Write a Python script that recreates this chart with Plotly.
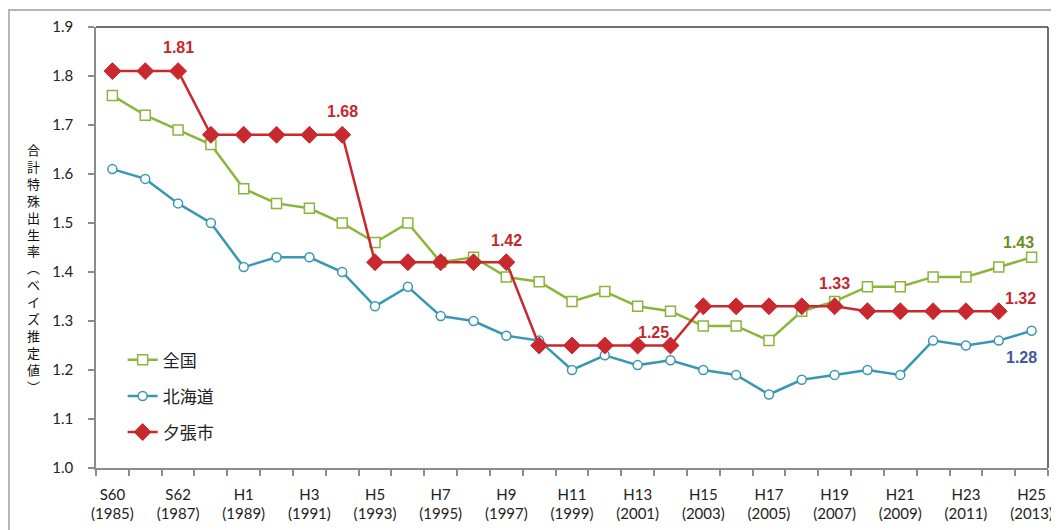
import plotly.graph_objects as go

years = list(range(1985, 2014))
zenkoku = [1.76, 1.72, 1.69, 1.66, 1.57, 1.54, 1.53, 1.50, 1.46, 1.50,
           1.42, 1.43, 1.39, 1.38, 1.34, 1.36, 1.33, 1.32, 1.29, 1.29,
           1.26, 1.32, 1.34, 1.37, 1.37, 1.39, 1.39, 1.41, 1.43]
hokkaido = [1.61, 1.59, 1.54, 1.50, 1.41, 1.43, 1.43, 1.40, 1.33, 1.37,
            1.31, 1.30, 1.27, 1.26, 1.20, 1.23, 1.21, 1.22, 1.20, 1.19,
            1.15, 1.18, 1.19, 1.20, 1.19, 1.26, 1.25, 1.26, 1.28]
yubari = [1.81, 1.81, 1.81, 1.68, 1.68, 1.68, 1.68, 1.68, 1.42, 1.42,
          1.42, 1.42, 1.42, 1.25, 1.25, 1.25, 1.25, 1.25, 1.33, 1.33,
          1.33, 1.33, 1.33, 1.32, 1.32, 1.32, 1.32, 1.32, None]
tick_years = list(range(1985, 2014, 2))
tick_text = ["S60<br>(1985)", "S62<br>(1987)", "H1<br>(1989)", "H3<br>(1991)",
             "H5<br>(1993)", "H7<br>(1995)", "H9<br>(1997)", "H11<br>(1999)",
             "H13<br>(2001)", "H15<br>(2003)", "H17<br>(2005)", "H19<br>(2007)",
             "H21<br>(2009)", "H23<br>(2011)", "H25<br>(2013)"]
series_names = ["全国", "北海道", "夕張市"]
y_title = "合計特殊出生率︵ベイズ推定値︶"

# value labels: (year, value, text, color, xshift, yshift)
labels = [
    (1987, 1.81, "1.81", "#c4282e", 0, 24),
    (1992, 1.68, "1.68", "#c4282e", 0, 23),
    (1997, 1.42, "1.42", "#c4282e", 0, 22),
    (2002, 1.25, "1.25", "#c4282e", -17, 13),
    (2007, 1.33, "1.33", "#c4282e", 0, 23),
    (2012, 1.32, "1.32", "#c4282e", 22, 13),
    (2013, 1.43, "1.43", "#6b8e23", -13, 15),
    (2013, 1.28, "1.28", "#44589a", -10, -27),
]

GREEN = "#8ab53a"
TEAL = "#3a97b3"
RED = "#c8282e"

fig = go.Figure()
fig.add_trace(go.Scatter(
    x=years, y=zenkoku, name=series_names[0], mode="lines+markers",
    legendgroup="a",
    line=dict(color=GREEN, width=2.5),
    marker=dict(symbol="square", size=10, color="white",
                line=dict(color=GREEN, width=1.5))))
fig.add_trace(go.Scatter(
    x=years, y=hokkaido, name=series_names[1], mode="lines+markers",
    legendgroup="b",
    line=dict(color=TEAL, width=2.5),
    marker=dict(symbol="circle", size=9, color="white",
                line=dict(color=TEAL, width=1.5))))
fig.add_trace(go.Scatter(
    x=years, y=yubari, name=series_names[2], mode="lines+markers",
    legendgroup="c", connectgaps=False,
    line=dict(color=RED, width=2.5),
    marker=dict(symbol="diamond", size=13, color=RED,
                line=dict(color=RED, width=1))))

for (yr, v, t, c, xs, ys) in labels:
    fig.add_annotation(x=yr, y=v, xref="x", yref="y", text="<b>" + t + "</b>",
                       showarrow=False, xshift=xs, yshift=ys,
                       font=dict(family="Liberation Sans, Arial", size=16, color=c))

fig.add_annotation(x=-0.066, y=0.4535, xref="paper", yref="paper",
                   text="<br>".join(list(y_title)), showarrow=False,
                   xanchor="center", yanchor="middle",
                   font=dict(family="Noto Sans CJK JP", size=13, color="#111"))

# outer chart border
fig.add_shape(type="rect", xref="paper", yref="paper",
              x0=-0.0915, x1=1.03, y0=-0.25, y1=1.0385,
              line=dict(color="#b3b3b3", width=2), layer="below")
# top & right frame lines
fig.add_shape(type="line", xref="paper", yref="paper", x0=0, x1=1, y0=1, y1=1,
              line=dict(color="#404040", width=1.5))
fig.add_shape(type="line", xref="paper", yref="paper", x0=1, x1=1, y0=0, y1=1,
              line=dict(color="#404040", width=1.5))

# page body has an 8px margin, so the figure is 8px smaller on each axis
fig.update_layout(
    width=1051, height=522,
    margin=dict(l=88, r=11, t=19, b=62, autoexpand=False),
    paper_bgcolor="white", plot_bgcolor="white",
    font=dict(family="Lato, Noto Sans", color="#222"),
    showlegend=True,
    legend=dict(x=0.028, y=0.285, xanchor="left", yanchor="top",
                bgcolor="rgba(0,0,0,0)", tracegroupgap=11,
                font=dict(family="Noto Sans CJK JP", size=17, color="#222")),
    xaxis=dict(range=[1984.5, 2013.5], tickmode="array", tickvals=tick_years,
               ticktext=tick_text, ticks="", showgrid=False, zeroline=False,
               automargin=False, ticklabelstandoff=12,
               showline=True, linecolor="#8c8c8c", linewidth=1.5,
               tickfont=dict(size=15, color="#222"),
               minor=dict(tickmode="linear", tick0=1984.5, dtick=1,
                          ticks="outside", ticklen=6, tickcolor="#8c8c8c",
                          tickwidth=1.5, showgrid=False)),
    yaxis=dict(range=[1.0, 1.9], dtick=0.1, tickformat=".1f",
               ticks="outside", ticklen=6, tickcolor="#8c8c8c", tickwidth=1.5,
               showgrid=False, zeroline=False, showline=True,
               automargin=False, ticklabelstandoff=12,
               linecolor="#8c8c8c", linewidth=1.5,
               tickfont=dict(size=15, color="#222")),
)

fig.write_html("out.html")
